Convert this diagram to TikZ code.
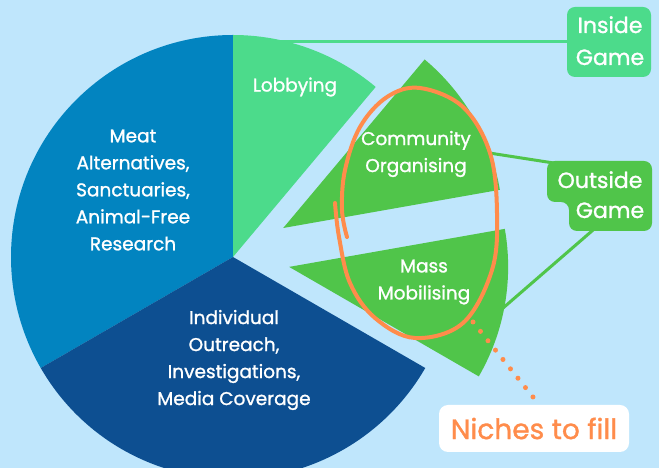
\documentclass[tikz,border=0pt]{standalone}
\usepackage{fontspec}
\setmainfont{Poppins}[RawFeature={embolden=1.2}]
\usetikzlibrary{calc}
\definecolor{bg}{HTML}{BFE6FC}
\definecolor{meat}{HTML}{0284C0}
\definecolor{darkb}{HTML}{0D4F91}
\definecolor{lgreen}{HTML}{4CDB8B}
\definecolor{mgreen}{HTML}{50C54A}
\definecolor{orng}{HTML}{FF8C4B}
\tikzset{
  lbl/.style={text=white, align=center, font=\fontsize{18.5}{27}\selectfont, inner sep=0pt},
  boxlbl/.style={text=white, font=\fontsize{22}{32}\selectfont, inner sep=0pt, anchor=base},
  conn/.style={line width=3pt, line cap=round},
}
\begin{document}
\begin{tikzpicture}[x=1pt,y=1pt]
\useasboundingbox (0,0) rectangle (659,468);
\fill[bg] (0,0) rectangle (659,468);
\begin{scope}
\clip (0,0) rectangle (659,468);
\coordinate (C) at (233,211);
% main slices
\fill[meat] (C) -- ++(90:222) arc[start angle=90, end angle=210, radius=222] -- cycle;
\fill[darkb] (C) -- ++(210:222) arc[start angle=210, end angle=330, radius=222] -- cycle;
% connectors (drawn under the shapes)
\coordinate (lobA) at (275,426);
\coordinate (coA) at (470,318);
\coordinate (mmA) at (495,153);
\draw[conn, lgreen] (lobA) -- (590,426);
\draw[conn, mgreen] (coA) -- (560,304);
\draw[conn, mgreen] (mmA) -- (600,244);
\fill[lgreen] (C) -- ++(50:222) arc[start angle=50, end angle=90, radius=222] -- cycle;
% exploded slices
\coordinate (CO) at ($(C)+(30:58)$);
\coordinate (MM) at ($(C)+(-10:57)$);
\fill[mgreen] (CO) -- ++(10:220) arc[start angle=10, end angle=50, radius=220] -- cycle;
\fill[mgreen] (MM) -- ++(-30:219) arc[start angle=-30, end angle=10, radius=219] -- cycle;
\end{scope}
% slice labels
\node[lbl] (meatL) at (133,278) {Meat\\Alternatives,\\Sanctuaries,\\Animal-Free\\Research};
\node[lbl] (indL) at (234,108) {Individual\\Outreach,\\Investigations,\\Media Coverage};
\node[lbl] (lobL) at (295,381) {Lobbying};
\node[lbl] (coL) at (416,314) {Community\\Organising};
\node[lbl] (mmL) at (424,186) {Mass\\Mobilising};
% Inside Game box
\node[fill=lgreen, rounded corners=8pt, minimum width=84pt, minimum height=70pt, inner sep=0pt] (inBox) at (609,426) {};
\node[boxlbl] (inT) at (610,435) {Inside};
\node[boxlbl] (inB) at (610,403) {Game};
% Outside Game box
\fill[mgreen, rounded corners=8pt] (547,307) -- (652,307) -- (652,237) -- (569,237) -- (569,266) -- (547,266) -- cycle;
\coordinate (outBox) at (600,272);
\node[boxlbl] (outT) at (600,280) {Outside};
\node[boxlbl] (outB) at (610,250) {Game};
% hand-drawn orange loop
\draw[orng, line width=4pt, line cap=round, line join=round]
  plot[smooth, tension=0.6] coordinates {(335,265) (339,231) (350,185) (375,150) (415,130) (463,145) (492,198) (497,255) (490,315) (463,361) (420,380) (387,371) (360,341) (345,298) (342,258) (347,231)};
% Niches box
\node[fill=white, rounded corners=9pt, minimum width=190pt, minimum height=47pt, inner sep=0pt, text=orng, font=\fontsize{28}{32}\selectfont] (niche) at (534,39.5) {Niches to fill};
\coordinate (dotA) at (473,146);
\draw[orng, line width=5pt, line cap=round, dash pattern=on 0pt off 12pt] (dotA) -- (533,71);
\end{tikzpicture}
\end{document}
